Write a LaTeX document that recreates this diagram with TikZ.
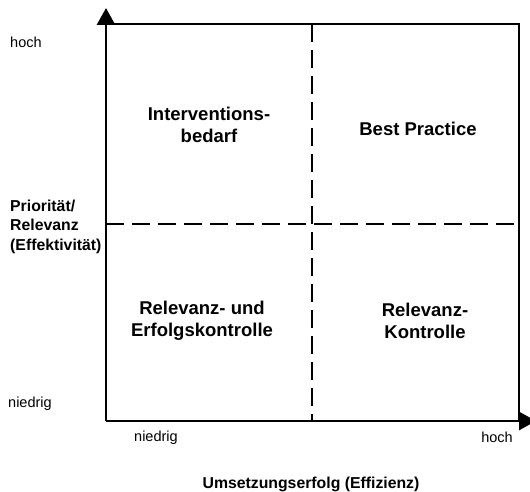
\documentclass[tikz,border=0pt]{standalone}
\usepackage{fontspec}
\setmainfont{Liberation Sans}
\usetikzlibrary{arrows.meta}
\begin{document}
\begin{tikzpicture}[x=1pt,y=-1pt,
  frame/.style={line width=2.9pt},
  axis/.style={line width=2.9pt,-{Triangle[width=18pt,length=17pt]}},
  divider/.style={line width=2pt,dash pattern=on 18pt off 8pt},
  quadrant/.style={font=\fontsize{18.5}{21.5}\selectfont\bfseries,align=center,inner sep=0pt},
  axislabel/.style={font=\fontsize{15.8}{19.5}\selectfont\bfseries,inner sep=0pt},
  ticklabel/.style={font=\fontsize{14.5}{17}\selectfont,inner sep=0pt}]
\useasboundingbox (0,0) rectangle (530,492);

% corners of the matrix and axis tips
\coordinate (O)  at (106,421);
\coordinate (TL) at (106,24);
\coordinate (TR) at (519,24);
\coordinate (BR) at (519,421);
\coordinate (ytip) at (106,8);
\coordinate (xtip) at (536,421);
\coordinate (vtop) at (312,24);
\coordinate (vbot) at (312,421);
\coordinate (hleft) at (106,224);
\coordinate (hright) at (519,224);

% frame and axes
\draw[frame,line cap=rect] (TL) -- (TR) -- (BR);
\draw[axis] (O) -- (ytip);
\draw[axis] (O) -- (xtip);

% quadrant dividers
\draw[divider] (vtop) -- (vbot);
\draw[divider] (hleft) -- (hright);

% quadrant labels
\node[quadrant] (q1) at (209,125) {Interventions-\\bedarf};
\node[quadrant] (q2) at (418,129) {Best Practice};
\node[quadrant] (q3) at (202,321) {Relevanz- und\\Erfolgskontrolle};
\node[quadrant] (q4) at (425,321) {Relevanz-\\Kontrolle};

% vertical axis labels
\node[ticklabel,anchor=base west] (yhigh) at (10,48) {hoch};
\node[ticklabel,anchor=base west] (ylow) at (8,407) {niedrig};
\node[axislabel,anchor=north west,align=left] (ytitle) at (10,199.5) {Priorität/\\Relevanz\\(Effektivität)};

% horizontal axis labels
\node[ticklabel,anchor=base west] (xlow) at (134,441) {niedrig};
\node[ticklabel,anchor=base east] (xhigh) at (513,442) {hoch};
\node[axislabel,anchor=base] (xtitle) at (311,488) {Umsetzungserfolg (Effizienz)};
\end{tikzpicture}
\end{document}
